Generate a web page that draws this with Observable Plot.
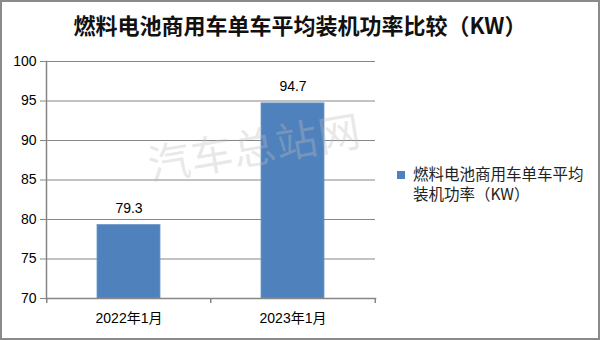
<!DOCTYPE html>
<html>
<head>
<meta charset="utf-8">
<script src="https://cdn.jsdelivr.net/npm/d3@7"></script>
<script src="https://cdn.jsdelivr.net/npm/@observablehq/plot@0.6"></script>
<style>
  html, body { margin: 0; padding: 0; background: #fff; }
  #wrap { position: relative; width: 600px; height: 340px; overflow: hidden; background: #fff;
          font-family: "Liberation Sans", "Noto Sans CJK SC", sans-serif; }
  #frame { position: absolute; left: 0; top: 0; width: 600px; height: 340px; box-sizing: border-box;
           border: 2px solid #8a8a8a; pointer-events: none; z-index: 5; }
  #title { position: absolute; left: 0; top: 0; width: 600px; height: 48px; line-height: 48px;
           text-align: center; font-family: "Noto Sans CJK SC", sans-serif; font-weight: bold;
           font-size: 22px; color: #111; }
  #chart { position: absolute; left: 0; top: 48px; }
  #legend { position: absolute; left: 397px; top: 163px; font-family: "Noto Sans CJK SC", sans-serif;
            font-size: 15.5px; line-height: 20px; color: #222; }
  #legend .sw { position: absolute; left: 0; top: 8px; width: 8px; height: 8px; background: #4F81BD; }
  #legend .tx { margin-left: 16px; }
  #wm { position: absolute; left: 148px; top: 132px; font-family: "Noto Sans CJK SC", sans-serif;
        font-size: 42px; letter-spacing: 1px; color: rgba(190,190,190,0.34); transform: rotate(-9.5deg);
        transform-origin: left center; white-space: nowrap; z-index: 4; pointer-events: none; }
</style>
</head>
<body>
<div id="wrap">
  <div id="title"></div>
  <div id="chart"></div>
  <div id="legend"><div class="sw"></div><div class="tx" id="legtext"></div></div>
  <div id="wm"></div>
  <div id="frame"></div>
</div>
<script>
const title = "燃料电池商用车单车平均装机功率比较（KW）";
const seriesName = ["燃料电池商用车单车平均", "装机功率（KW）"];
const categories = ["2022年1月", "2023年1月"];
const values = [79.3, 94.7];
const yTicks = [70, 75, 80, 85, 90, 95, 100];
const watermark = "汽车总站网";

document.getElementById("title").textContent = title;
document.getElementById("legtext").innerHTML = seriesName.join("<br>");
document.getElementById("wm").textContent = watermark;

const data = categories.map((c, i) => ({cat: c, val: values[i]}));

const W = 600, H = 292, mL = 46, mR = 225, mT = 13, mB = 42;
const step = (W - mL - mR) / categories.length;
const gray = "#868686";
const fontStack = "Liberation Sans, Noto Sans CJK SC, sans-serif";

const chart = Plot.plot({
  width: W,
  height: H,
  marginLeft: mL,
  marginRight: mR,
  marginTop: mT,
  marginBottom: mB,
  style: {fontFamily: fontStack, fontSize: "14px", color: "#000", background: "transparent"},
  x: {domain: categories, paddingInner: 0.618, paddingOuter: 0.309, label: null},
  y: {domain: [70, 100], label: null},
  marks: [
    Plot.gridY(yTicks, {stroke: gray, strokeOpacity: 1, strokeWidth: 1.2}),
    Plot.barY(data, {x: "cat", y1: 70, y2: "val", fill: "#4F81BD", stroke: "#6f97c8", strokeWidth: 0.8}),
    Plot.text(data, {x: "cat", y: "val", text: d => d.val.toFixed(1), dy: -17, fontSize: 14, fill: "#000"}),
    Plot.frame({anchor: "left", stroke: gray, strokeWidth: 1.5}),
    Plot.frame({anchor: "bottom", stroke: gray, strokeWidth: 1.5}),
    Plot.axisY(yTicks, {tickSize: 6, tickPadding: 4, stroke: gray, fill: "#000", fontSize: 14, label: null}),
    Plot.axisX({tickSize: 0, tickPadding: 15, fill: "#000", fontSize: 14, label: null}),
    Plot.axisX(categories, {tickSize: 5, fill: "none", stroke: gray, strokeWidth: 1.5, dx: -step / 2, label: null}),
    Plot.axisX([categories[categories.length - 1]], {tickSize: 5, fill: "none", stroke: gray, strokeWidth: 1.5, dx: step / 2, label: null})
  ]
});
document.getElementById("chart").appendChild(chart);
</script>
</body>
</html>
